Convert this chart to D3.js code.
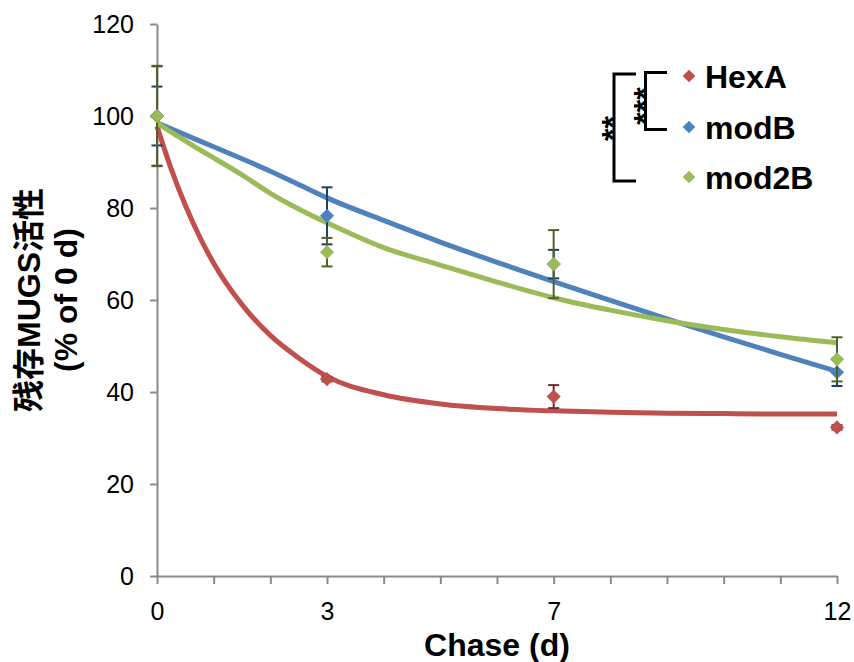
<!DOCTYPE html>
<html>
<head>
<meta charset="utf-8">
<script src="https://cdn.jsdelivr.net/npm/d3@7"></script>
<style>
  html, body { margin: 0; padding: 0; background: #fff; }
  svg { display: block; }
</style>
</head>
<body>
<svg id="chart" width="854" height="662"></svg>
<script>
// ---- data ----
const seriesNames = ["HexA", "modB", "mod2B"];
const seriesColors = ["#c0504d", "#4f81bd", "#9bbb59"];
const errorColors = ["#772c2a", "#1f3e6b", "#4f6228"];

const pointDays = [0, 3, 7, 12];
const hexAValues = [100, 42.8, 39.0, 32.3];
const hexAErrors = [10.8, 0.5, 2.5, 0.5];
const modBValues = [100, 78.3, 67.8, 44.3];
const modBErrors = [6.4, 6.2, 3.1, 3.0];
const mod2BValues = [100, 70.4, 67.8, 47.1];
const mod2BErrors = [10.9, 3.1, 7.4, 4.8];

// fitted curves
const fitDays = [0, 0.25, 0.5, 0.75, 1, 1.5, 2, 2.5, 3, 4, 5, 6, 7, 8, 9, 10, 11, 12];
const hexAFit = [97.8, 88.5, 80.6, 73.8, 68.0, 59.0, 52.3, 47.4, 43.4, 39.4, 37.4, 36.4, 35.9, 35.6, 35.4, 35.3, 35.2, 35.2];
const modBFit = [98.5, 97.2, 95.9, 94.6, 93.3, 90.7, 88.0, 85.1, 82.2, 77.3, 72.6, 68.2, 64.0, 59.9, 55.9, 52.0, 48.2, 44.5];
const mod2BFit = [98.5, 96.5, 94.6, 92.7, 90.9, 87.2, 83.2, 79.8, 76.8, 71.4, 67.6, 63.9, 60.5, 57.8, 55.5, 53.6, 52.0, 50.7];

const xTickDays = [0,1,2,3,4,5,6,7,8,9,10,11,12];
const xTickLabels = [0, 3, 7, 12];
const yTicks = [0, 20, 40, 60, 80, 100, 120];

const xTitle = "Chase (d)";
const yTitle1 = "残存MUGS活性";
const yTitle2 = "(% of 0 d)";
const starsOuter = "**";
const starsInner = "***";

// ---- layout ----
const svg = d3.select("#chart");
const x = d3.scaleLinear().domain([0, 12]).range([157, 837]);
const y = d3.scaleLinear().domain([0, 120]).range([576, 24]);
const axisColor = "#8a8a8a";
const latin = "'Liberation Sans', Arial, 'Noto Sans CJK SC', sans-serif";

// axes
const yAxis = d3.axisLeft(y).tickValues(yTicks).tickSize(7).tickSizeOuter(0).tickPadding(16);
const gy = svg.append("g").attr("transform", `translate(${x(0)},0)`).call(yAxis);
const xAxis = d3.axisBottom(x).tickValues(xTickDays).tickSize(8).tickSizeOuter(0).tickPadding(18)
  .tickFormat(d => xTickLabels.includes(d) ? String(d) : "");
const gx = svg.append("g").attr("transform", `translate(0,${y(0)})`).call(xAxis);

[gx, gy].forEach(g => {
  g.select(".domain").attr("stroke", axisColor).attr("stroke-width", 2);
  g.selectAll(".tick line").attr("stroke", axisColor).attr("stroke-width", 2);
  g.selectAll(".tick text").attr("fill", "#000").style("font-family", latin).style("font-size", "25px");
});

// axis titles
svg.append("text")
  .attr("x", (x(0) + x(12)) / 2).attr("y", 656)
  .attr("text-anchor", "middle")
  .style("font-family", latin).style("font-size", "32px").style("font-weight", "bold")
  .text(xTitle);

const yt = svg.append("g").attr("transform", `translate(0,${(y(0) + y(120)) / 2}) rotate(-90)`);
yt.append("text").attr("x", 0).attr("y", 40).attr("text-anchor", "middle")
  .style("font-family", latin).style("font-size", "32px").style("font-weight", "bold")
  .text(yTitle1);
yt.append("text").attr("x", 0).attr("y", 77).attr("text-anchor", "middle")
  .style("font-family", latin).style("font-size", "32px").style("font-weight", "bold")
  .text(yTitle2);

// diamond symbol (square rotated 45deg)
const diamond = {
  draw(ctx, size) {
    const r = Math.sqrt(size / 2);
    ctx.moveTo(0, -r); ctx.lineTo(r, 0); ctx.lineTo(0, r); ctx.lineTo(-r, 0); ctx.closePath();
  }
};

const fits = [hexAFit, modBFit, mod2BFit];
const vals = [hexAValues, modBValues, mod2BValues];
const errs = [hexAErrors, modBErrors, mod2BErrors];

// fitted curves
const line = d3.line().x(d => x(d[0])).y(d => y(d[1])).curve(d3.curveMonotoneX);
fits.forEach((f, i) => {
  svg.append("path")
    .datum(fitDays.map((d, j) => [d, f[j]]))
    .attr("fill", "none")
    .attr("stroke", seriesColors[i])
    .attr("stroke-width", 5)
    .attr("stroke-linejoin", "round")
    .attr("d", line);
});

// error bars + markers
const cap = 5.5;
vals.forEach((v, i) => {
  const g = svg.append("g");
  const data = pointDays.map((d, j) => ({ d, v: v[j], e: errs[i][j] }));
  const eg = g.selectAll("g.err").data(data).enter().append("g")
    .attr("stroke", errorColors[i]).attr("stroke-width", 2);
  eg.append("line").attr("x1", p => x(p.d)).attr("x2", p => x(p.d))
    .attr("y1", p => y(p.v + p.e)).attr("y2", p => y(p.v - p.e));
  eg.append("line").attr("x1", p => x(p.d) - cap).attr("x2", p => x(p.d) + cap)
    .attr("y1", p => y(p.v + p.e)).attr("y2", p => y(p.v + p.e));
  eg.append("line").attr("x1", p => x(p.d) - cap).attr("x2", p => x(p.d) + cap)
    .attr("y1", p => y(p.v - p.e)).attr("y2", p => y(p.v - p.e));
  g.selectAll("path.pt").data(data).enter().append("path")
    .attr("transform", p => `translate(${x(p.d)},${y(p.v)})`)
    .attr("d", d3.symbol().type(diamond).size(100))
    .attr("fill", seriesColors[i]);
});

// legend
const legendY = [76, 127, 177];
seriesNames.forEach((n, i) => {
  svg.append("path")
    .attr("transform", `translate(689,${legendY[i]})`)
    .attr("d", d3.symbol().type(diamond).size(80))
    .attr("fill", seriesColors[i]);
  svg.append("text")
    .attr("x", 705).attr("y", legendY[i] + 12)
    .style("font-family", latin).style("font-size", "32px").style("font-weight", "bold")
    .text(n);
});

// significance brackets
const br = svg.append("g").attr("fill", "none").attr("stroke", "#000").attr("stroke-width", 3);
br.append("path").attr("d", "M636,74 H614 V181 H636");
br.append("path").attr("d", "M667,72.5 H645.5 V129.5 H667");

function stars(txt, cx, cy) {
  svg.append("g").attr("transform", `translate(${cx},${cy}) rotate(-90)`)
    .append("text").attr("x", 0).attr("y", 0.58 * 32).attr("text-anchor", "middle")
    .style("font-family", latin).style("font-size", "32px").style("font-weight", "bold")
    .text(txt);
}
stars(starsOuter, 605, 128.5);
stars(starsInner, 637.5, 106);
</script>
</body>
</html>
